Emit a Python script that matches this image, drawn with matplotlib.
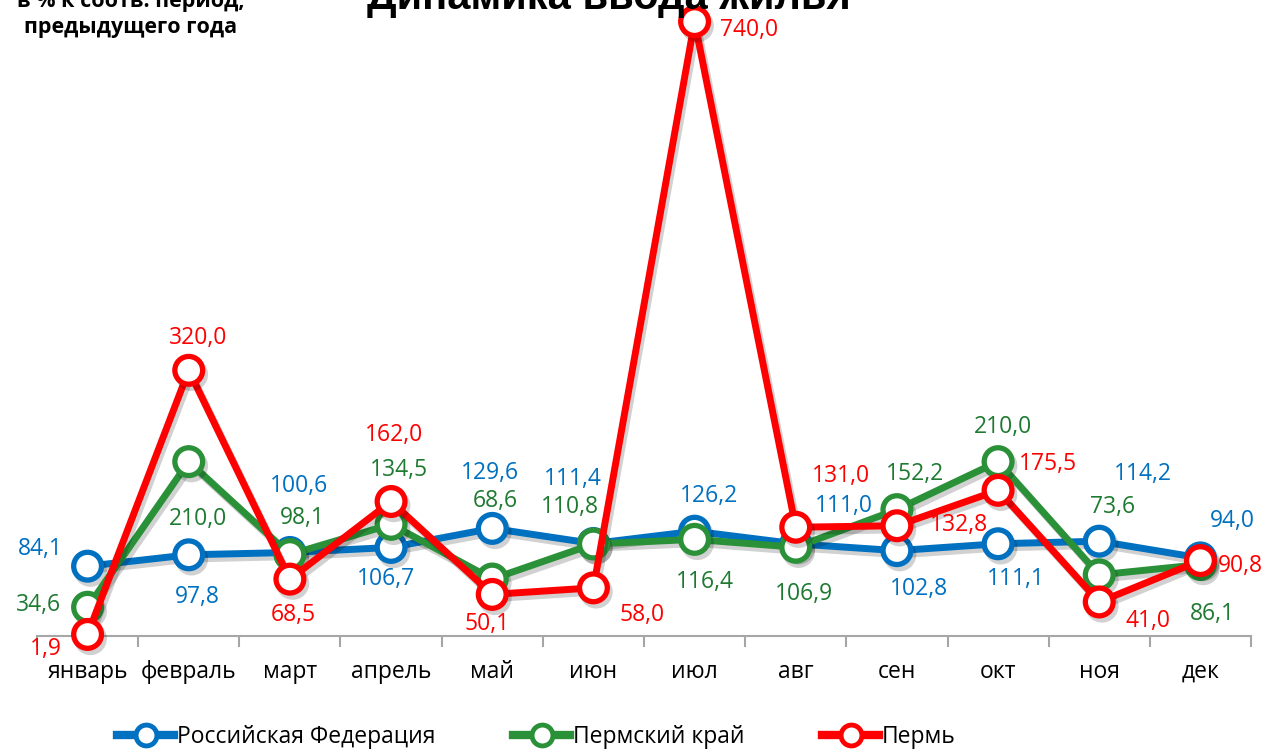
import matplotlib.pyplot as plt
import matplotlib.patheffects as pe
from matplotlib.lines import Line2D
import numpy as np

plt.rcParams['font.family'] = ['Open Sans', 'DejaVu Sans']

months = ['январь', 'февраль', 'март', 'апрель', 'май', 'июн',
          'июл', 'авг', 'сен', 'окт', 'ноя', 'дек']
rf = [84.1, 97.8, 100.6, 106.7, 129.6, 111.4, 126.2, 111.0, 102.8, 111.1, 114.2, 94.0]
perm_krai = [34.6, 210.0, 98.1, 134.5, 68.6, 110.8, 116.4, 106.9, 152.2, 210.0, 73.6, 86.1]
perm = [1.9, 320.0, 68.5, 162.0, 50.1, 58.0, 740.0, 131.0, 132.8, 175.5, 41.0, 90.8]

names = ['Российская Федерация', 'Пермский край', 'Пермь']
colors = ['#0070C0', '#2A9139', '#FF0000']
label_colors = ['#0070C0', '#1F7A31', '#FF0000']

# label offsets in pixels (dx, dy) relative to each point
offs_rf = [(-47, 17), (9, -42), (9, 66), (-5, -32), (-2, 55), (-21, 65), (14, 35),
           (48, 38), (22, -38), (18, -35), (44, 67), (32, 37)]
offs_krai = [(-49, 2), (9, -57), (12, 37), (8, 54), (3, 78), (-23, 37), (10, -43),
             (8, -47), (18, 36), (5, 35), (13, 68), (12, -49)]
offs_perm = [(-42, -15), (9, 32), (3, -36), (3, 66), (-5, -30), (49, -27), (54, -8),
             (45, 51), (62, 1), (50, 26), (49, -19), (40, -5)]

x = np.arange(len(months))
fig = plt.figure(figsize=(12.68, 7.55), dpi=100)
ax = fig.add_axes([37 / 1268, 119 / 755, 1214 / 1268, 631 / 755])

series = [rf, perm_krai, perm]
offsets = [offs_rf, offs_krai, offs_perm]
for vals, name, c, lc, offs in zip(series, names, colors, label_colors, offsets):
    ax.plot(x, vals, color=c, lw=5, marker='o', ms=20, mfc='white', mec=c, mew=3.8,
            solid_capstyle='round', clip_on=False,
            path_effects=[pe.SimpleLineShadow(offset=(2, -3), alpha=0.18), pe.Normal()])
    for xi, v, (dx, dy) in zip(x, vals, offs):
        ax.annotate(f'{v:.1f}'.replace('.', ','), (xi, v), xytext=(dx, dy),
                    textcoords='offset pixels', ha='center', va='center',
                    color=lc, fontsize=16.5)

ax.set_xlim(-0.5, 11.5)
ax.set_ylim(0, 760)
ax.set_yticks([])
for s in ['top', 'right', 'left']:
    ax.spines[s].set_visible(False)
ax.spines['bottom'].set_color('#A6A6A6')
ax.spines['bottom'].set_linewidth(1.5)
ax.spines['bottom'].set_zorder(0)
ax.set_xticks(x)
ax.set_xticklabels(months, fontsize=16.5)
ax.set_xticks(np.arange(-0.5, 12, 1), minor=True)
ax.tick_params(axis='x', which='major', length=0, pad=17)
ax.tick_params(axis='x', which='minor', length=8, width=1.5, color='#A6A6A6')

fig.text(0.48, 1 - 9 / 755, 'Динамика ввода жилья', ha='center', va='baseline',
         fontsize=30, fontweight='bold', family=['Liberation Sans', 'DejaVu Sans'])
fig.text(131 / 1268, 1 - 2 / 755, 'в % к соотв. период,', ha='center', va='center',
         fontsize=15.5, fontweight='bold')
fig.text(131 / 1268, 1 - 28 / 755, 'предыдущего года', ha='center', va='center',
         fontsize=15.5, fontweight='bold')

handles = [Line2D([], [], color=c, lw=6, marker='o', ms=15, mfc='white', mec=c, mew=3.5)
           for c in colors]
fig.legend(handles, names, loc='lower center', bbox_to_anchor=(0.423, -0.019), ncol=3,
           frameon=False, fontsize=16.5, handlelength=2.5, handletextpad=0.1,
           columnspacing=3.4)

fig.savefig('out.png', dpi=100)
